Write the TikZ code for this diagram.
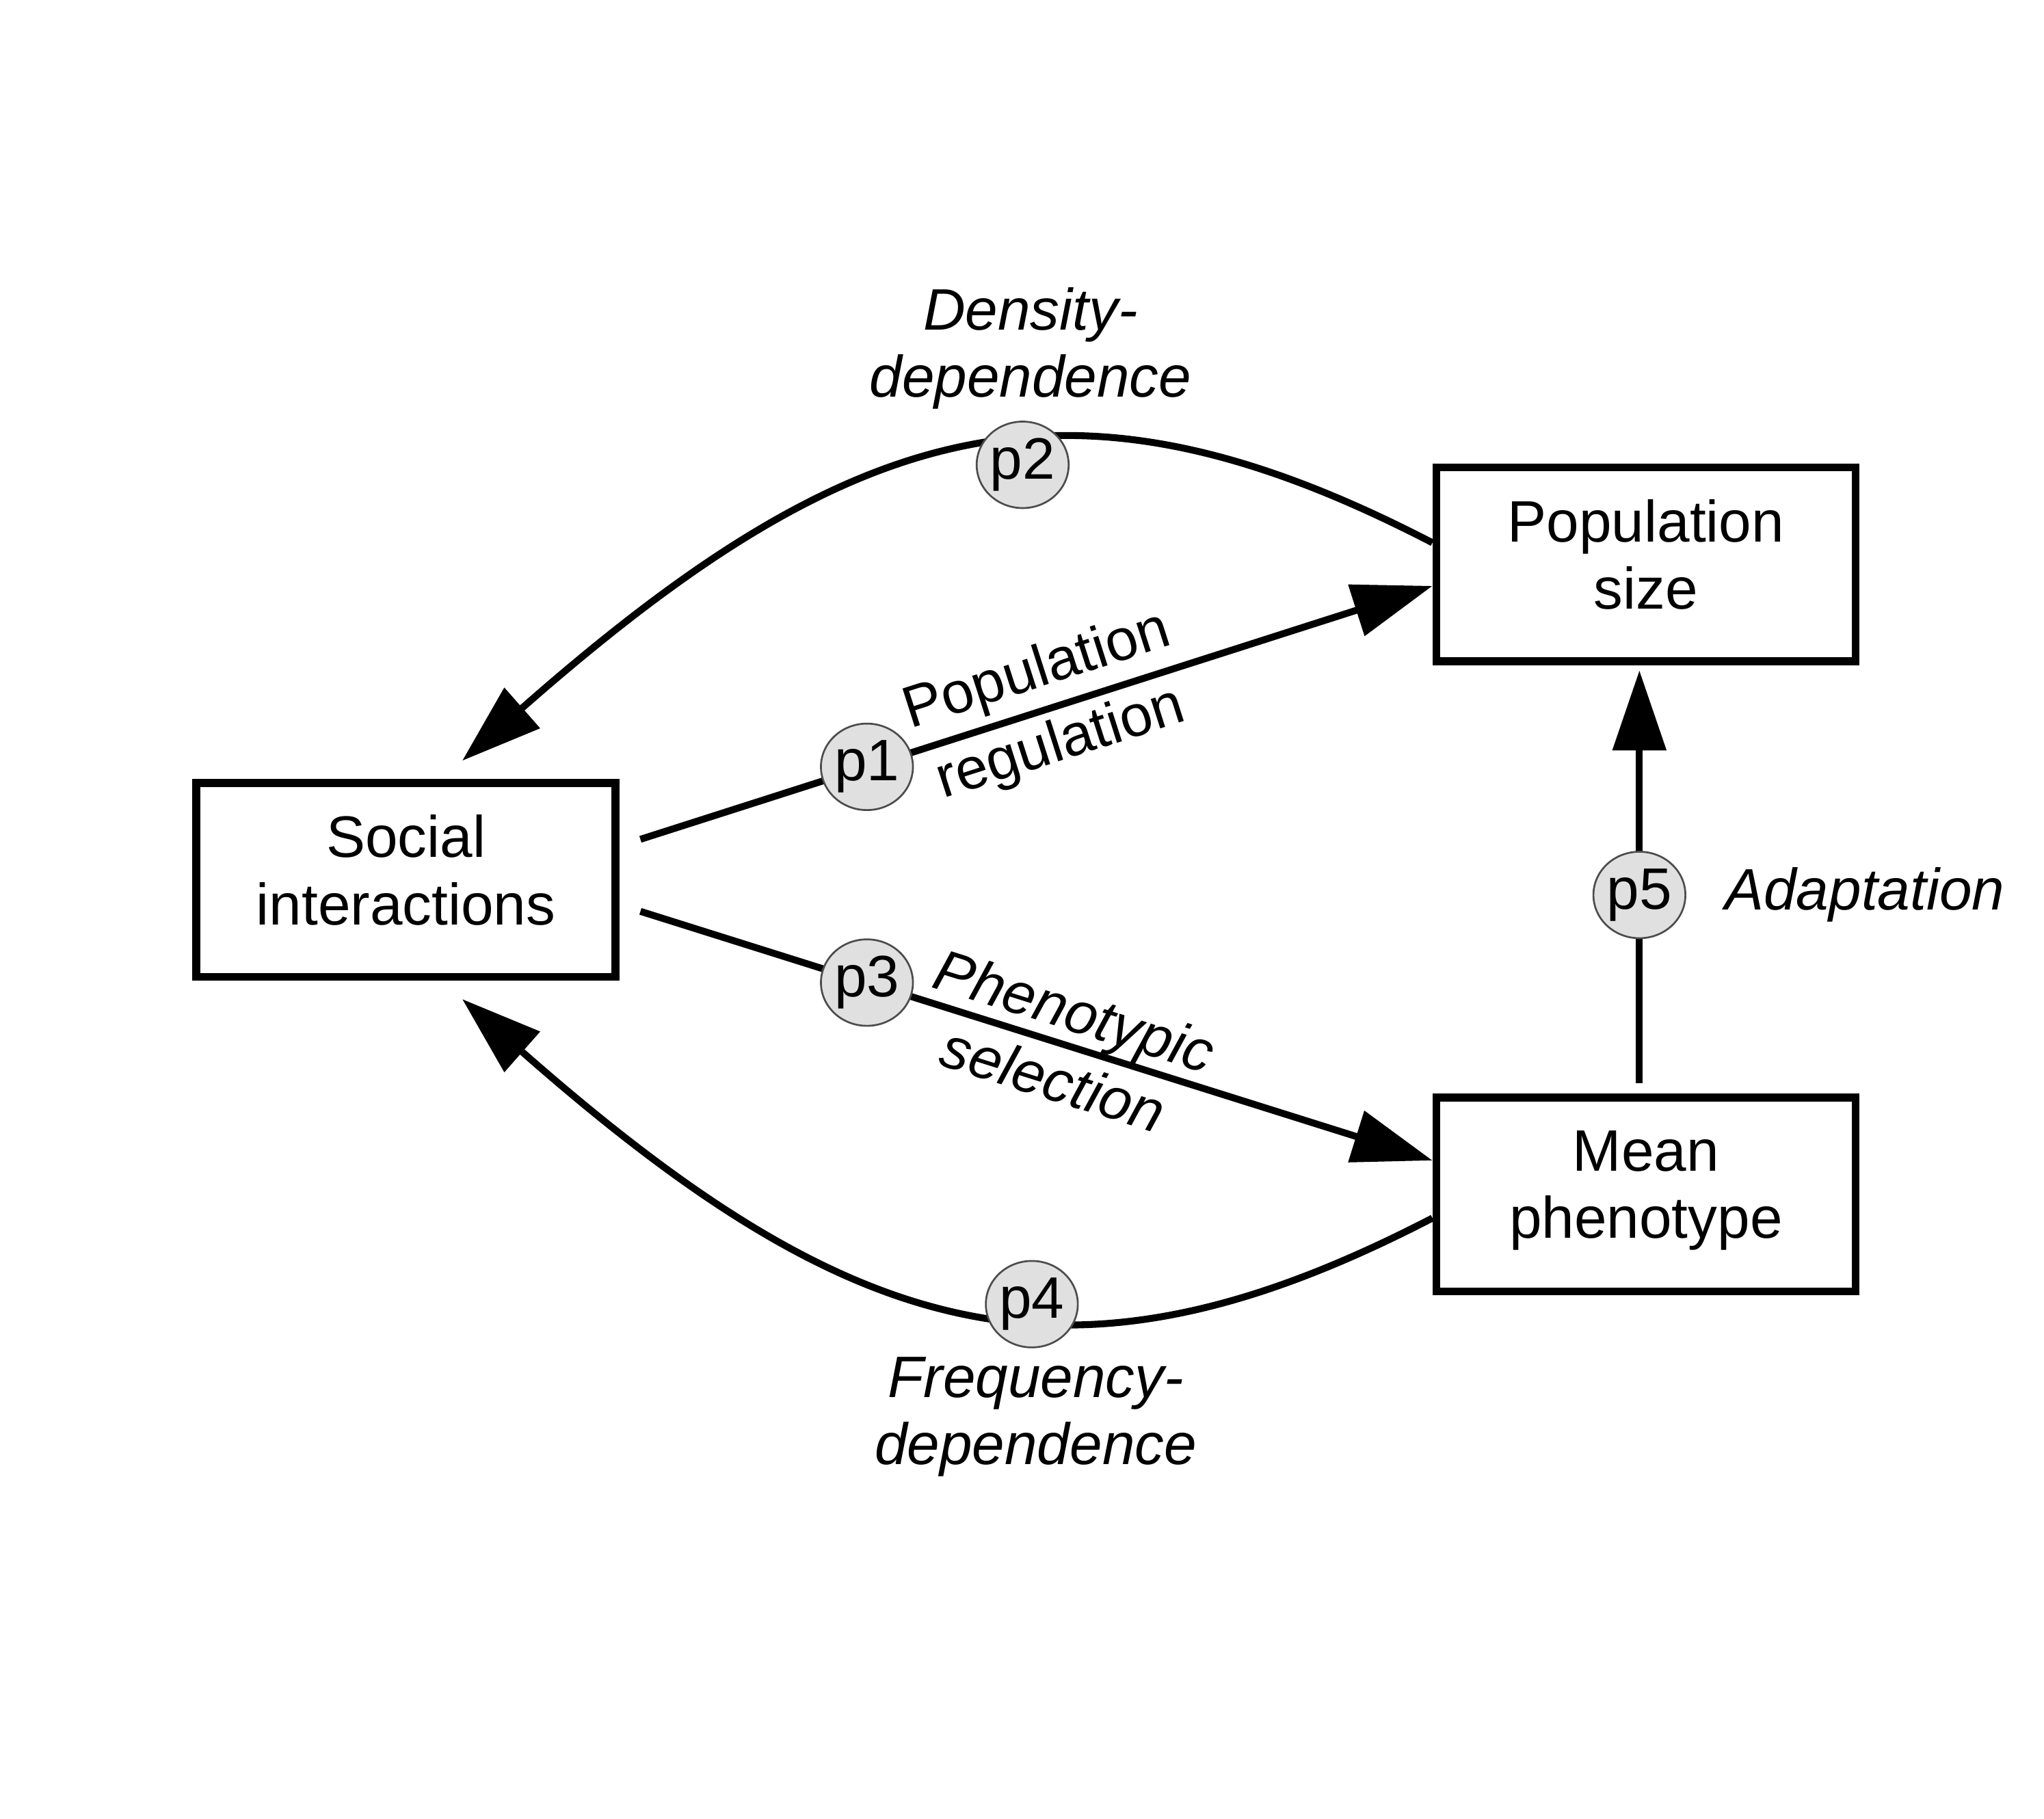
\documentclass[tikz,border=0pt]{standalone}
\usepackage{fontspec}
\setmainfont{Liberation Sans}
\usepackage{xcolor}
\usetikzlibrary{arrows.meta,positioning,shapes.geometric}
\definecolor{pgray}{RGB}{224,224,224}

\begin{document}
\begin{tikzpicture}[
        x=0.01cm, y=-0.01cm,
        font=\fontsize{12.7}{14.6}\selectfont,
        >={Triangle[length=0.61cm,width=0.40cm]},
        box/.style={rectangle,draw,line width=1.7pt,minimum width=3.2cm,minimum height=1.48cm,align=center},
        pnode/.style={ellipse,draw=black!70,line width=0.4pt,fill=pgray,minimum width=0.62cm,minimum height=0.66cm,inner sep=0pt},
        tag/.style={align=center,font=\fontsize{12.7}{14.6}\selectfont\itshape},
        arrow/.style={->,line width=1.5pt}
    ]
        \useasboundingbox (0,0) rectangle (1561,1389);

        \node[box] (social) at (310,672) {Social\\interactions\strut};
        \node[box] (popsize) at (1257,431) {Population\\size\strut};
        \node[box,below=3.27cm of popsize] (meanph) {Mean\\phenotype\strut};

        \draw[arrow] ([xshift=0.16cm,yshift=0.31cm]social.east) -- node[pnode,pos=0.286] (p1) {p1} node[sloped,pos=0.516,align=center] {Population\\[2pt]regulation} ([yshift=-0.165cm]popsize.west);
        \draw[arrow] ([xshift=0.16cm,yshift=-0.24cm]social.east) -- node[pnode,pos=0.286] (p3) {p3} node[sloped,pos=0.535,tag] {Phenotypic\\[1pt]selection} ([yshift=0.26cm]meanph.west);
        \draw[arrow] ([xshift=-0.05cm,yshift=0.08cm]meanph.north) -- node[pnode,pos=0.456] (p5) {p5} ([xshift=-0.05cm,yshift=-0.04cm]popsize.south);
        \draw[arrow] ([yshift=0.165cm]popsize.west) .. controls +(-276,-143) and +(300,-264) .. ([xshift=0.43cm,yshift=0.14cm]social.north);
        \draw[arrow] ([yshift=-0.18cm]meanph.west) .. controls +(-276,143) and +(300,264) .. ([xshift=0.43cm,yshift=-0.14cm]social.south);

        \node[pnode] (p2) at (781,355) {p2};
        \node[pnode] (p4) at (788,996) {p4};
        \node[tag] (density) at (787,266) {Density-\\dependence};
        \node[tag] (frequency) at (791,1082) {Frequency-\\dependence};
        \node[tag,right=0.17cm of p5] (adapt) {Adaptation};
    \end{tikzpicture}
\end{document}
